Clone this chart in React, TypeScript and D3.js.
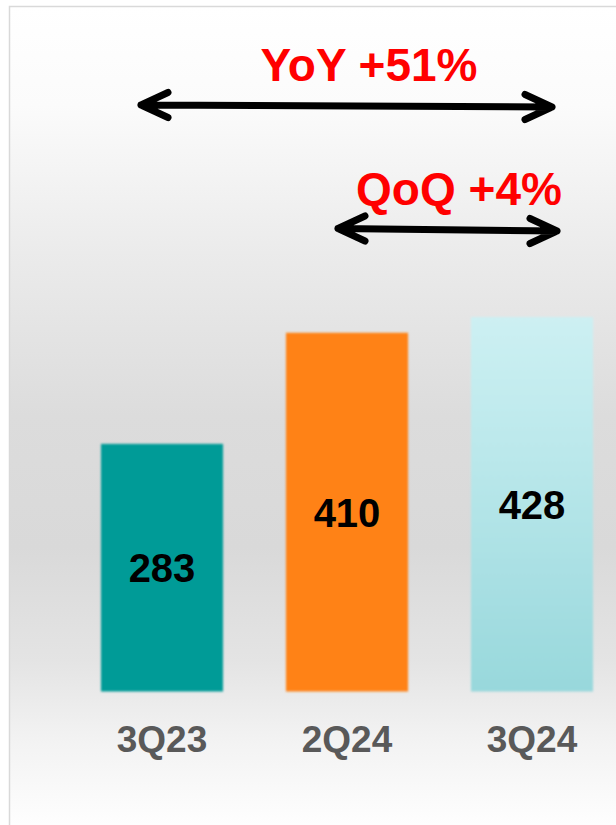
import React from "react";
import * as d3 from "d3";

const categories = ["3Q23", "2Q24", "3Q24"];
const values = [283, 410, 428];
const valueLabels = ["283", "410", "428"];
const yoyLabel = "YoY +51%";
const qoqLabel = "QoQ +4%";

const W = 616;
const H = 825;
const FONT = "'Liberation Sans', Arial, Helvetica, sans-serif";

export default function App() {
  const x = d3
    .scaleBand<string>()
    .domain(categories)
    .range([69.5, 624.5])
    .paddingInner(0.34)
    .paddingOuter(0.17);
  const y = d3.scaleLinear().domain([0, 500]).range([691.5, 254]);
  const bw = x.bandwidth();
  const cx = (c: string) => (x(c) as number) + bw / 2;

  const fills = ["#069b97", "#ff8214", "url(#g3)"];

  const arrow = (x1: number, y1: number, x2: number, y2: number) => {
    const ah = 27;
    const aw = 12.5;
    return (
      `M${x1},${y1}L${x2},${y2}` +
      `M${x1 + ah},${y1 - aw}L${x1},${y1}L${x1 + ah},${y1 + aw}` +
      `M${x2 - ah},${y2 - aw}L${x2},${y2}L${x2 - ah},${y2 + aw}`
    );
  };

  const c0 = cx(categories[0]);
  const c1 = cx(categories[1]);
  const c2 = cx(categories[2]);

  return (
    <div style={{ position: "absolute", left: 0, top: 0 }}>
      <svg width={W} height={H} style={{ display: "block" }}>
        <defs>
          <linearGradient id="bg" gradientUnits="userSpaceOnUse" x1="0" y1="7" x2="0" y2="825">
            <stop offset="0" stopColor="#ffffff" />
            <stop offset="0.12" stopColor="#fbfbfb" />
            <stop offset="0.3" stopColor="#ebebeb" />
            <stop offset="0.5" stopColor="#dcdcdc" />
            <stop offset="0.66" stopColor="#d9d9d9" />
            <stop offset="0.8" stopColor="#e4e4e4" />
            <stop offset="0.9" stopColor="#f3f3f3" />
            <stop offset="1" stopColor="#fefefe" />
          </linearGradient>
          <linearGradient id="g3" x1="0" y1="0" x2="0" y2="1">
            <stop offset="0" stopColor="#cdf0f3" />
            <stop offset="0.4" stopColor="#b9e7ea" />
            <stop offset="1" stopColor="#98d8dc" />
          </linearGradient>
          <filter id="soft" x="-5%" y="-5%" width="110%" height="110%">
            <feGaussianBlur stdDeviation="0.8" />
          </filter>
        </defs>
        <rect x={0} y={0} width={W} height={H} fill="#ffffff" />
        <rect x={9.5} y={6.5} width={W} height={H} fill="url(#bg)" stroke="#d9d9d9" strokeWidth={1.5} />

        <g filter="url(#soft)">
          {categories.map((c, i) => (
            <rect
              key={c}
              x={x(c)}
              y={y(values[i])}
              width={bw}
              height={y(0) - y(values[i])}
              fill={fills[i]}
            />
          ))}
        </g>

        {categories.map((c, i) => (
          <text
            key={"v" + c}
            x={cx(c)}
            y={(y(values[i]) + y(0)) / 2}
            dy="0.36em"
            textAnchor="middle"
            fontFamily={FONT}
            fontWeight="bold"
            fontSize={40}
            fill="#000"
          >
            {valueLabels[i]}
          </text>
        ))}

        {categories.map((c) => (
          <text
            key={"c" + c}
            x={cx(c)}
            y={752}
            textAnchor="middle"
            fontFamily={FONT}
            fontWeight="bold"
            fontSize={37}
            fill="#595959"
          >
            {c}
          </text>
        ))}

        <path
          d={arrow(c0 - 21, 105, c2 + 20, 107)}
          fill="none"
          stroke="#000"
          strokeWidth={7}
          strokeLinecap="round"
          strokeLinejoin="round"
        />
        <path
          d={arrow(c1 - 9, 228.5, c2 + 25, 231)}
          fill="none"
          stroke="#000"
          strokeWidth={7}
          strokeLinecap="round"
          strokeLinejoin="round"
        />

        <text
          x={369}
          y={81}
          textAnchor="middle"
          fontFamily={FONT}
          fontWeight="bold"
          fontSize={46}
          fill="#ff0000"
        >
          {yoyLabel}
        </text>
        <text
          x={459}
          y={205}
          textAnchor="middle"
          fontFamily={FONT}
          fontWeight="bold"
          fontSize={46}
          fill="#ff0000"
        >
          {qoqLabel}
        </text>
      </svg>
    </div>
  );
}
